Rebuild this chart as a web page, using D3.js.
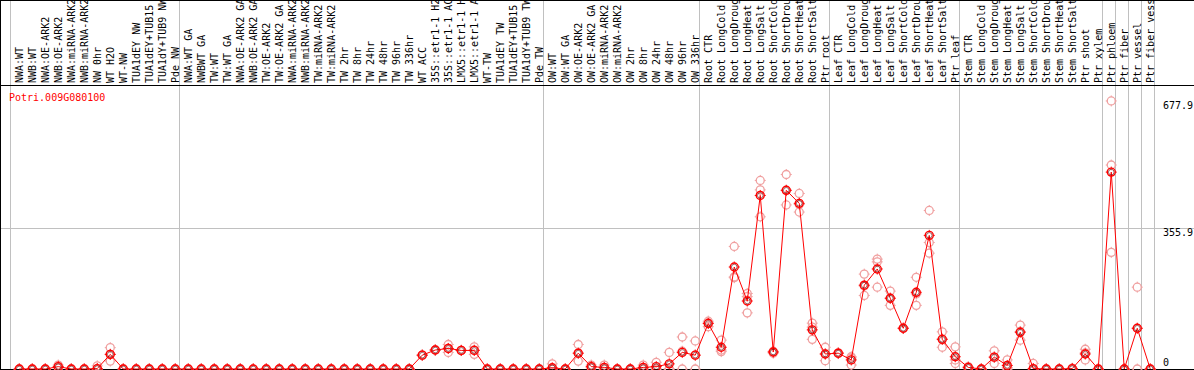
<!DOCTYPE html>
<html>
<head>
<meta charset="utf-8">
<script src="https://cdn.jsdelivr.net/npm/d3@7"></script>
<style>
  html, body { margin: 0; padding: 0; background: #fff; }
  svg { display: block; }
  text { font-family: "DejaVu Sans Mono", monospace; font-size: 10px; }
</style>
</head>
<body>
<svg id="chart" width="1194" height="370"></svg>
<script>
const geneName = "Potri.009G080100";

const categories = [
  "NWA:WT","NWB:WT","NWA:OE-ARK2","NWB:OE-ARK2","NWA:miRNA-ARK2","NWB:miRNA-ARK2","NW 0hr","WT H2O","WT-NW",
  "TUA1dEY NW","TUA1dEY+TUB15 NW","TUA1dY+TUB9 NW","Pde NW",
  "NWA:WT GA","NWBWT GA","TW:WT","TW:WT GA","NWA:OE-ARK2 GA","NWB:OE-ARK2 GA","TW:OE-ARK2","TW:OE-ARK2 GA",
  "NWA:miRNA-ARK2","NWB:miRNA-ARK2","TW:miRNA-ARK2","TW:miRNA-ARK2","TW 2hr","TW 8hr","TW 24hr","TW 48hr","TW 96hr","TW 336hr",
  "WT ACC","35S::etr1-1 H2O","35S::etr1-1 ACC","LMX5::etr1-1 H2O","LMX5::etr1-1 ACC","WT-TW",
  "TUA1dEY TW","TUA1dEY+TUB15 TW","TUA1dY+TUB9 TW","Pde TW",
  "OW:WT","OW:WT GA","OW:OE-ARK2","OW:OE-ARK2 GA","OW:miRNA-ARK2","OW:miRNA-ARK2",
  "OW 2hr","OW 8hr","OW 24hr","OW 48hr","OW 96hr","OW 336hr",
  "Root CTR","Root LongCold","Root LongDrought","Root LongHeat","Root LongSalt",
  "Root ShortCold","Root ShortDrought","Root ShortHeat","Root ShortSalt","Ptr root",
  "Leaf CTR","Leaf LongCold","Leaf LongDrought","Leaf LongHeat","Leaf LongSalt",
  "Leaf ShortCold","Leaf ShortDrought","Leaf ShortHeat","Leaf ShortSalt","Ptr leaf",
  "Stem CTR","Stem LongCold","Stem LongDrought","Stem LongHeat","Stem LongSalt",
  "Stem ShortCold","Stem ShortDrought","Stem ShortHeat","Stem ShortSalt","Ptr shoot",
  "Ptr xylem","Ptr phloem","Ptr fiber","Ptr vessel","Ptr fiber vessel"
];

const meanValues = [
  0,0,0,6,0,0,1,37,0,
  0,0,0,0,
  0,0,0,0,0,0,0,0,
  0,0,0,0,0,0,0,0,0,0,
  35,48,52,47,47,0,
  0,0,0,0,
  3,0,40,6,4,0,
  0,4,6,13,42,35,
  115,55,258,172,439,
  43,452,419,99,38,
  40,23,212,253,179,
  103,194,338,75,31,
  4,0,30,9,93,
  1,0,0,1,38,
  0,498,0,103,0
];

const rep1 = [
  0,0,0,10,0,0,8,54,0,
  0,0,0,0,
  0,0,0,0,0,0,0,0,
  0,0,0,0,0,0,0,0,0,0,
  35,48,62,47,56,0,
  0,0,0,0,
  13,0,62,10,10,0,
  0,10,17,42,81,71,
  121,73,310,191,477,
  45,492,444,116,55,
  41,31,240,278,197,
  103,232,401,94,56,
  6,0,46,23,111,
  14,0,0,2,50,
  0,678,0,207,0
];

const rep2 = [
  0,0,0,5,0,0,0,37,0,
  0,0,0,0,
  0,0,0,0,0,0,0,0,
  0,0,0,0,0,0,0,0,0,0,
  35,48,52,47,48,0,
  0,0,0,0,
  0,0,40,5,2,0,
  0,2,1,0,45,35,
  117,48,233,183,453,
  43,452,416,106,38,
  40,28,210,271,179,
  103,190,320,76,23,
  4,0,30,4,95,
  0,0,0,1,41,
  0,516,0,103,0
];

const rep3 = [
  0,0,0,3,0,0,0,20,0,
  0,0,0,0,
  0,0,0,0,0,0,0,0,
  0,0,0,0,0,0,0,0,0,0,
  35,48,42,47,37,0,
  0,0,0,0,
  0,0,20,3,0,0,
  0,0,0,0,0,0,
  107,44,231,142,385,
  40,415,397,75,21,
  39,10,186,207,161,
  103,161,293,55,14,
  2,0,14,0,73,
  0,0,0,0,23,
  0,295,0,0,0
];

const yTicks = [0, 355.9, 677.9];
const yGridValues = [355.9];
// indices of columns that start a new group (vertical separator before them)
const groupStarts = [0, 13, 41, 53, 63, 73, 84, 85, 86, 87, 88];

const svg = d3.select("#chart");
const W = 1194, H = 370;
const labelBottom = 85, plotBottom = 369;

const x = d3.scaleBand().domain(d3.range(categories.length)).range([10.5, 1154.5]).padding(0);
const cx = i => x(i) + 8.75;
const xEdge = i => (i < categories.length ? x(i) : x.range()[1]);
const y = d3.scaleLinear().domain([0, 677.9]).range([plotBottom, 101]);

// vertical separators
svg.append("g").selectAll("line").data(groupStarts).join("line")
  .attr("x1", d => Math.floor(xEdge(d)) + 0.5).attr("x2", d => Math.floor(xEdge(d)) + 0.5)
  .attr("y1", 0).attr("y2", plotBottom)
  .attr("stroke", "#c0c0c0").attr("stroke-width", 1);

// horizontal grid
svg.append("g").selectAll("line").data(yGridValues).join("line")
  .attr("x1", 0).attr("x2", W)
  .attr("y1", d => Math.round(y(d)) + 0.5).attr("y2", d => Math.round(y(d)) + 0.5)
  .attr("stroke", "#c0c0c0").attr("stroke-width", 1);

// frame lines
const frame = svg.append("g").attr("stroke", "#000").attr("stroke-width", 1);
frame.append("line").attr("x1", 0).attr("x2", W).attr("y1", 0.5).attr("y2", 0.5);
frame.append("line").attr("x1", 0).attr("x2", W).attr("y1", labelBottom + 0.5).attr("y2", labelBottom + 0.5);
frame.append("line").attr("x1", 0).attr("x2", W).attr("y1", plotBottom + 0.5).attr("y2", plotBottom + 0.5);
frame.append("line").attr("x1", 0.5).attr("x2", 0.5).attr("y1", 0).attr("y2", plotBottom);

// column labels (rotated)
svg.append("g").selectAll("text").data(categories).join("text")
  .attr("transform", (d, i) => `translate(${cx(i) + 3.5},${labelBottom - 2}) rotate(-90)`)
  .attr("fill", "#000")
  .text(d => d);

// title
svg.append("text").attr("x", 9).attr("y", 100.5).attr("fill", "#ff0000").text(geneName);

// y tick labels
svg.append("g").selectAll("text").data(yTicks).join("text")
  .attr("x", 1163)
  .attr("y", d => d === 0 ? y(d) - 3.5 : y(d) + 8)
  .attr("fill", "#000")
  .text(d => d === 0 ? "0" : d.toFixed(1));

function marker(g, color, sw) {
  g.append("circle").attr("r", 4).attr("fill", "none").attr("stroke", color).attr("stroke-width", sw);
  const t = [[0,-4,0,-5.5],[0,4,0,5.5],[-4,0,-5.5,0],[4,0,5.5,0]];
  t.forEach(s => g.append("line").attr("x1", s[0]).attr("y1", s[1]).attr("x2", s[2]).attr("y2", s[3])
    .attr("stroke", color).attr("stroke-width", 1));
}

// replicate points
const repPoints = [];
[rep1, rep2, rep3].forEach(arr => arr.forEach((v, i) => repPoints.push({i, v})));
svg.append("g").selectAll("g").data(repPoints).join("g")
  .attr("transform", d => `translate(${cx(d.i)},${y(d.v)})`)
  .each(function() { marker(d3.select(this), "#f0a0a0", 1.3); });

// mean line
const line = d3.line().x((d, i) => cx(i)).y(d => y(d));
svg.append("path").datum(meanValues).attr("d", line)
  .attr("fill", "none").attr("stroke", "#ff0000").attr("stroke-width", 1);

// mean markers
svg.append("g").selectAll("g").data(meanValues).join("g")
  .attr("transform", (d, i) => `translate(${cx(i)},${y(d)})`)
  .each(function() {
    const g = d3.select(this);
    marker(g, "#ff0000", 1.4);
    g.append("circle").attr("r", 2.8).attr("fill", "none").attr("stroke", "#600000").attr("stroke-width", 0.6);
  });
</script>
</body>
</html>
